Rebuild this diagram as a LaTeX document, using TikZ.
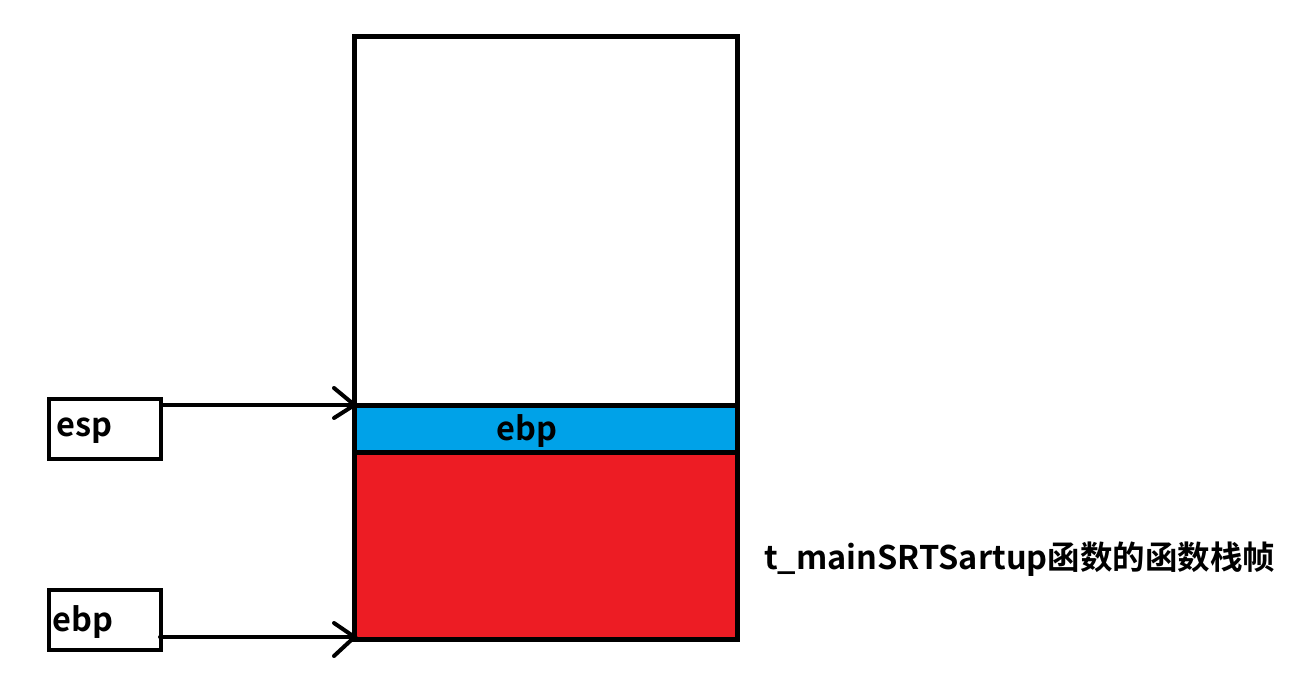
\documentclass[tikz,border=0pt]{standalone}
\usepackage{fontspec}
\setmainfont{Noto Sans CJK SC}[BoldFont={Noto Sans CJK SC Bold}]
\definecolor{pblue}{HTML}{00A2E8}
\definecolor{pred}{HTML}{ED1C24}
\begin{document}
\begin{tikzpicture}[x=1pt,y=-1pt,
  frame/.style={draw=black,line width=5pt},
  regbox/.style={draw=black,line width=4pt,minimum width=112pt,minimum height=60pt,inner sep=0pt},
  lbl/.style={font=\fontsize{32.5}{34}\selectfont\bfseries,inner sep=0pt},
  ptr/.style={line width=4pt,line cap=round},
  headarm/.style={line width=4pt,line cap=round}]
\useasboundingbox (0,0) rectangle (1304,687);
% stack areas
\fill[pred] (354.5,452.5) rectangle (737.5,639.5);
\fill[pblue] (354.5,405) rectangle (737.5,452.5);
\draw[frame] (354.5,36.5) rectangle (737.5,639.5);
\draw[frame] (354.5,405) -- (737.5,405);
\draw[frame] (354.5,452.5) -- (737.5,452.5);
\coordinate (espT) at (354.5,405);
\coordinate (ebpT) at (354.5,637);
\node[lbl] (ebpin) at (527,431) {ebp};
% register boxes
\node[regbox] (esp) at (105,428.5) {};
\node[lbl,anchor=west] (esptxt) at (56,431) {esp};
\node[regbox] (ebp) at (105,620) {};
\node[lbl,anchor=west] (ebptxt) at (52,622) {ebp};
% arrows
\draw[ptr] (esp.east |- espT) -- (espT);
\draw[headarm] (334,388) -- (espT) -- (334,418);
\draw[ptr] (160,637) -- (ebpT);
\draw[headarm] (334,623) -- (ebpT) -- (334,656);
% caption
\node[lbl,anchor=west] (cap) at (764,559) {t\_mainSRTSartup函数的函数栈帧};
\end{tikzpicture}
\end{document}
